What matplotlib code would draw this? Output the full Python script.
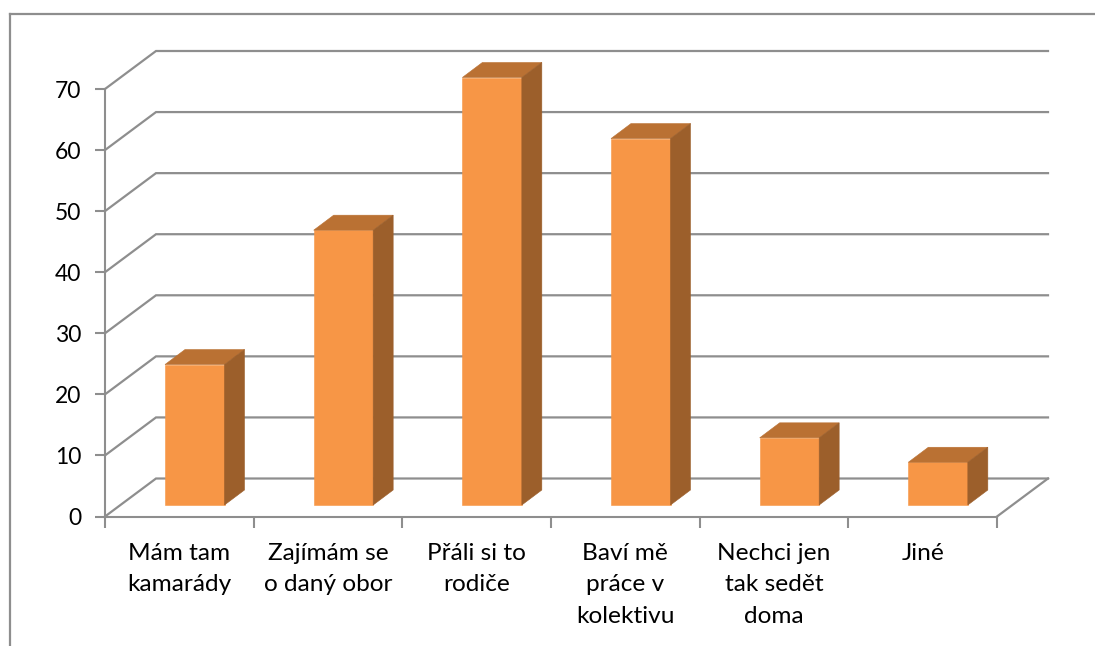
import matplotlib
matplotlib.use("Agg")
import matplotlib.pyplot as plt
from matplotlib.lines import Line2D
from matplotlib.patches import Polygon

categories = ["Mám tam\nkamarády", "Zajímám se\no daný obor", "Přáli si to\nrodiče",
              "Baví mě\npráce v\nkolektivu", "Nechci jen\ntak sedět\ndoma", "Jiné"]
values = [23, 45, 70, 60, 11, 7]
y_ticks = [0, 10, 20, 30, 40, 50, 60, 70]

W, H = 1095, 646
plt.rcParams['font.family'] = ['Lato', 'DejaVu Sans']
GRID = '#8e8e8e'
FRONT, TOP, SIDE = '#F79646', '#BA7133', '#9C5F2B'

fig = plt.figure(figsize=(W / 100, H / 100), dpi=100)
L, R, B, T = 105, 997, 516.5, 89
ax = fig.add_axes([L / W, 1 - B / H, (R - L) / W, (B - T) / H])
ax.set_xlim(0, len(categories))
ax.set_ylim(0, 70)
ax.patch.set_visible(False)
for s in ('top', 'right'):
    ax.spines[s].set_visible(False)
for s in ('left', 'bottom'):
    ax.spines[s].set_color(GRID)
    ax.spines[s].set_linewidth(1.5)

px = len(categories) / (R - L)   # data units per pixel, x
py = 70 / (B - T)                # data units per pixel, y
wall_dx, wall_dy = 51 * px, 38 * py
n = len(categories)

for v in y_ticks:
    ax.plot([0, wall_dx, n + wall_dx], [v, v + wall_dy, v + wall_dy],
            color=GRID, lw=1.6, clip_on=False, zorder=1, solid_joinstyle='miter')
ax.plot([n, n + wall_dx], [0, wall_dy], color=GRID, lw=1.6, clip_on=False, zorder=1)

bar_off, bar_w = 60 * px, 59.5 * px
base = 11.5 * py
ddx, ddy = 20 * px, 15 * py
for i, v in enumerate(values):
    x0 = i + bar_off
    x1 = x0 + bar_w
    y0, y1 = base, v + base
    ax.add_patch(Polygon([(x0, y0), (x1, y0), (x1, y1), (x0, y1)], fc=FRONT, ec=FRONT, lw=0.4,
                         clip_on=False, zorder=3))
    ax.add_patch(Polygon([(x0, y1), (x1, y1), (x1 + ddx, y1 + ddy), (x0 + ddx, y1 + ddy)], fc=TOP, ec=TOP, lw=0.4,
                         clip_on=False, zorder=3))
    ax.add_patch(Polygon([(x1, y0), (x1 + ddx, y0 + ddy), (x1 + ddx, y1 + ddy), (x1, y1)], fc=SIDE, ec=SIDE, lw=0.4,
                         clip_on=False, zorder=3))

ax.set_yticks(y_ticks)
ax.set_xticks(range(n + 1))
ax.set_xticklabels([])
ax.set_xticks([i + 0.5 for i in range(n)], minor=True)
ax.set_xticklabels(categories, minor=True, linespacing=1.62, va='top')
ax.tick_params(axis='y', length=7, width=1.5, color=GRID, labelsize=16.5, pad=10, labelcolor='black')
ax.tick_params(axis='x', which='major', length=8, width=1.5, color=GRID)
ax.tick_params(axis='x', which='minor', length=0, labelsize=17.6, pad=19, labelcolor='black')

fx = lambda p: p / W
fy = lambda p: 1 - p / H
fig.add_artist(Line2D([fx(10), fx(10)], [fy(14), fy(646)], color=GRID, lw=1.6))
fig.add_artist(Line2D([fx(10), fx(1095)], [fy(14), fy(14)], color=GRID, lw=1.6))

fig.savefig('out.png', dpi=100)
